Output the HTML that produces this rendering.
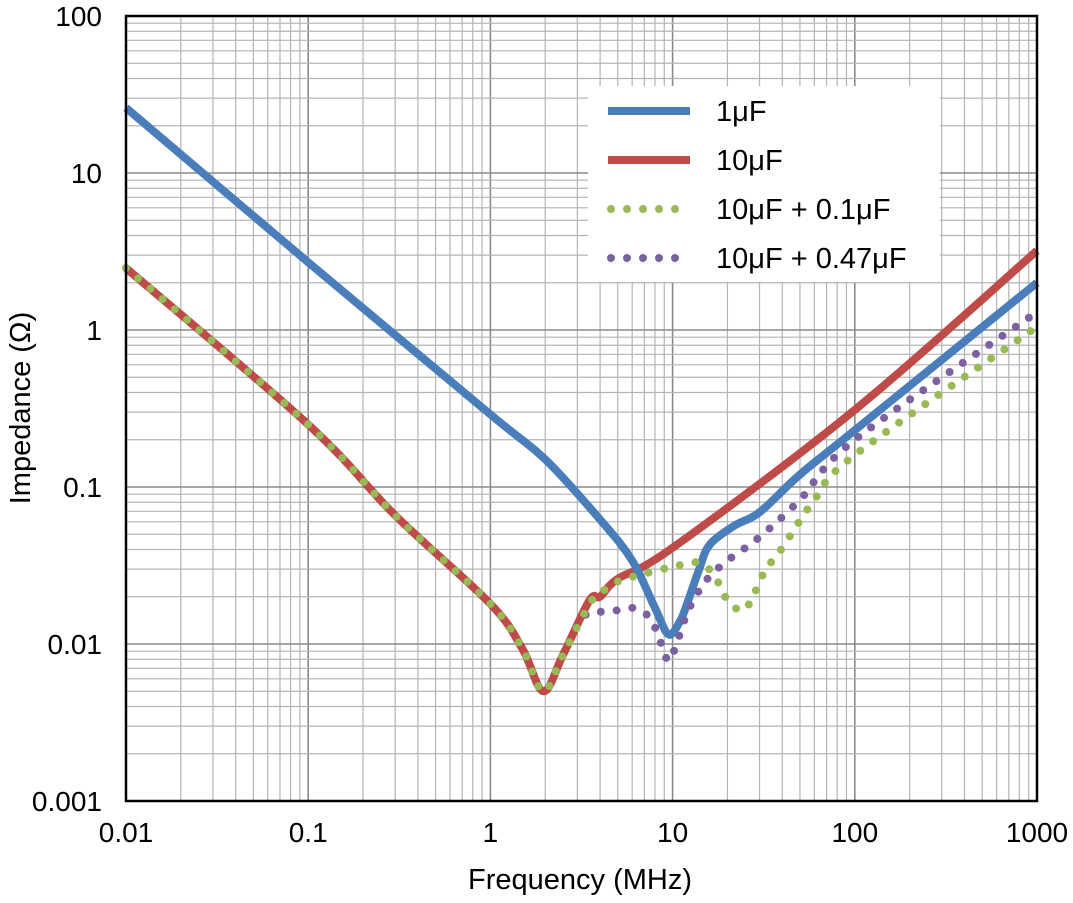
<!DOCTYPE html>
<html><head><meta charset="utf-8"><style>
body{margin:0;background:#fff;}
svg text{font-family:"Liberation Sans",Arial,sans-serif;fill:#000;}
</style></head><body>
<svg id="chart" width="1073" height="898" xmlns="http://www.w3.org/2000/svg">
<g id="grid"></g>
<g id="series"></g>
<rect x="126" y="16" width="911" height="785" fill="none" stroke="#000" stroke-width="2.5"/>
<g id="ticks"></g>
<text x="580" y="889" font-size="29" text-anchor="middle">Frequency (MHz)</text>
<text transform="translate(30,408) rotate(-90)" font-size="29" text-anchor="middle">Impedance (Ω)</text>
<g>
<rect x="588" y="86" width="352" height="196" fill="#fff"/>
<g><line x1="608" y1="111" x2="690" y2="111" stroke="#4a7ebb" stroke-width="8"/><text x="716" y="121" font-size="29">1μF</text></g>
<g><line x1="608" y1="160" x2="690" y2="160" stroke="#be4b48" stroke-width="8"/><text x="716" y="170" font-size="29">10μF</text></g>
<g><line x1="611" y1="209" x2="690" y2="209" stroke="#98b954" stroke-width="8" stroke-linecap="round" stroke-dasharray="0 16"/><text x="716" y="219" font-size="29">10μF + 0.1μF</text></g>
<g><line x1="611" y1="258" x2="690" y2="258" stroke="#7d60a0" stroke-width="8" stroke-linecap="round" stroke-dasharray="0 16"/><text x="716" y="268" font-size="29">10μF + 0.47μF</text></g>
</g>
</svg>
<script>
const xTicks=[0.01,0.1,1,10,100,1000];
const xTickLabels=["0.01","0.1","1","10","100","1000"];
const yTicks=[0.001,0.01,0.1,1,10,100];
const yTickLabels=["0.001","0.01","0.1","1","10","100"];
const f1uF=[0.01,0.1,1,2,4,6,8,9.5,11,12,14,16,22,30,50,100,1000];
const z1uF=[26,2.7,0.29,0.15,0.062,0.034,0.017,0.0115,0.014,0.018,0.03,0.043,0.057,0.069,0.12,0.23,2.0];
const f10uF=[0.01,0.1,0.3,1,1.5,1.95,2.5,3.5,4,5,10,100,1000];
const z10uF=[2.48,0.25,0.066,0.018,0.0093,0.005,0.0085,0.019,0.02,0.026,0.041,0.31,3.2];
const fA=[0.01,0.1,0.3,1,1.5,1.95,2.5,3.5,4,5,7,10,14,17,20,24,27,32,40,60,100,1000];
const zA=[2.48,0.25,0.066,0.018,0.0093,0.005,0.0085,0.018,0.021,0.025,0.028,0.031,0.033,0.027,0.019,0.0163,0.019,0.029,0.041,0.083,0.16,1.05];
const fB=[0.01,0.1,0.3,1,1.5,1.95,2.5,3,3.5,4.5,6,7.5,8.5,9.5,10.5,12,14,16,20,30,50,100,1000];
const zB=[2.48,0.25,0.066,0.018,0.0093,0.005,0.0085,0.013,0.0159,0.016,0.017,0.0147,0.0106,0.0078,0.01,0.0157,0.022,0.027,0.034,0.048,0.083,0.2,1.3];
const L=126,R=1037,T=16,B=801;
const X=f=>L+(Math.log10(f)+2)/5*(R-L);
const Y=z=>T+(2-Math.log10(z))/5*(B-T);
const NS="http://www.w3.org/2000/svg";
function mk(tag,attrs,parent){const e=document.createElementNS(NS,tag);for(const k in attrs)e.setAttribute(k,attrs[k]);parent.appendChild(e);return e;}
const grid=document.getElementById('grid');
for(let d=-2;d<3;d++)for(let m=1;m<10;m++){
 const v=m*Math.pow(10,d);
 const ln=mk('line',{x1:X(v),x2:X(v),y1:T,y2:B,stroke:m===1?'#8a8a8a':'#b4b4b4','stroke-width':m===1?1.6:1.2},grid);
 
 
}
for(let d=-3;d<2;d++)for(let m=1;m<10;m++){
 const v=m*Math.pow(10,d);
 const ln=mk('line',{x1:L,x2:R,y1:Y(v),y2:Y(v),stroke:m===1?'#8a8a8a':'#b4b4b4','stroke-width':m===1?1.6:1.2},grid);
 
 
}
const ticks=document.getElementById('ticks');
xTicks.forEach((v,i)=>{const t=mk('text',{x:X(v),y:842,'font-size':28,'text-anchor':'middle'},ticks);t.textContent=xTickLabels[i];
 
 });
yTicks.forEach((v,i)=>{const t=mk('text',{x:102,y:Y(v)+10,'font-size':28,'text-anchor':'end'},ticks);t.textContent=yTickLabels[i];
 
 });
function pathD(fs,zs){
 const p=fs.map((f,i)=>[X(f),Y(zs[i])]);
 let d='M'+p[0][0]+','+p[0][1];
 for(let i=0;i<p.length-1;i++){
  const p0=p[Math.max(0,i-1)],p1=p[i],p2=p[i+1],p3=p[Math.min(p.length-1,i+2)];
  const c1=[p1[0]+(p2[0]-p0[0])/6,p1[1]+(p2[1]-p0[1])/6];
  const c2=[p2[0]-(p3[0]-p1[0])/6,p2[1]-(p3[1]-p1[1])/6];
  d+=` C${c1[0]},${c1[1]} ${c2[0]},${c2[1]} ${p2[0]},${p2[1]}`;
 }
 return d;
}
const sg=document.getElementById('series');
const s1=mk('path',{d:pathD(fB,zB),fill:'none',stroke:'#7d60a0','stroke-width':8,'stroke-linecap':'round','stroke-dasharray':'0 16'},sg);


const s2=mk('path',{d:pathD(fA,zA),fill:'none',stroke:'#98b954','stroke-width':8,'stroke-linecap':'round','stroke-dasharray':'0 16'},sg);


const s3=mk('path',{d:pathD(f10uF,z10uF),fill:'none',stroke:'#be4b48','stroke-width':8,'stroke-linejoin':'round'},sg);


sg.insertBefore(s3,s1);
const s4=mk('path',{d:pathD(f1uF,z1uF),fill:'none',stroke:'#4a7ebb','stroke-width':8,'stroke-linejoin':'round'},sg);


sg.insertBefore(s4,s1);
</script>
</body></html>
